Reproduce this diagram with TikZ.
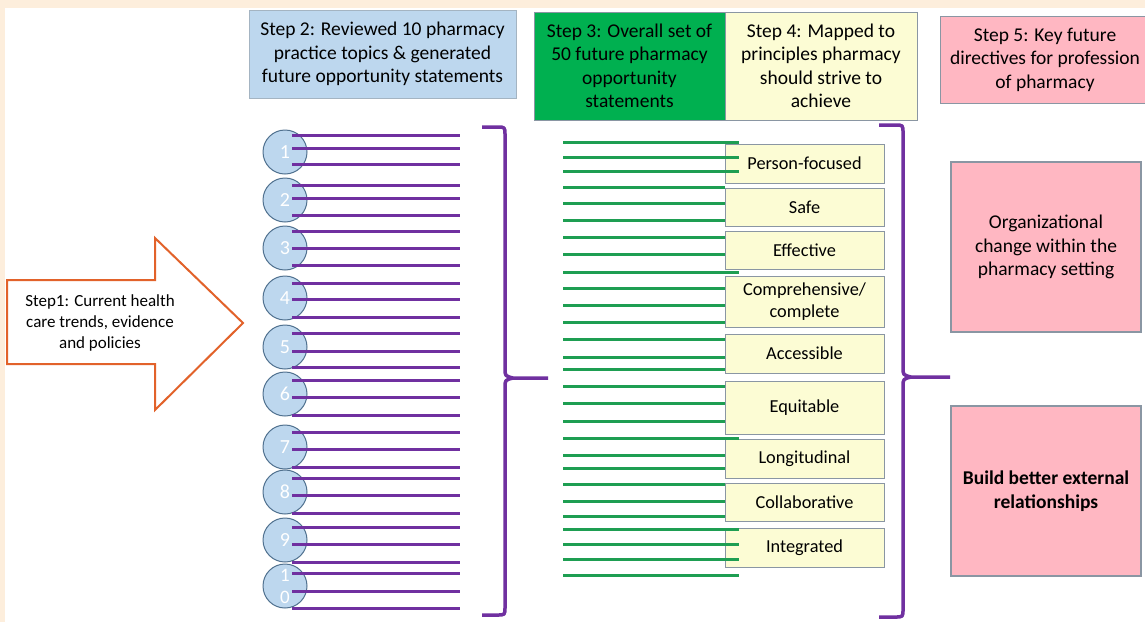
\documentclass[tikz,border=0pt]{standalone}
\usepackage{fontspec}
\setmainfont{Carlito}
\definecolor{peach}{HTML}{FDEEDC}
\definecolor{stepblue}{HTML}{BDD7EE}
\definecolor{stepgreen}{HTML}{00B050}
\definecolor{stepyellow}{HTML}{FCFCD4}
\definecolor{steppink}{HTML}{FFB7C2}
\definecolor{topicpurple}{HTML}{7030A0}
\definecolor{linegreen}{HTML}{1E9E52}
\definecolor{arroworange}{HTML}{E2622A}
\definecolor{boxgray}{HTML}{8A96A3}
\definecolor{circleedge}{HTML}{50718F}
\tikzset{
  stepbox/.style={draw=boxgray, line width=1pt, align=center, inner sep=0pt,
    font=\fontsize{19.5}{23.5}\selectfont},
  principle/.style={draw=boxgray, fill=stepyellow, line width=1pt, minimum width=159,
    align=center, inner sep=0pt, font=\fontsize{18.3}{22}\selectfont},
  topic/.style={circle, draw=circleedge, fill=stepblue, line width=1pt, minimum size=44,
    inner sep=0pt, text=white, font=\fontsize{20}{22}\selectfont},
  directive/.style={draw=boxgray, fill=steppink, line width=1.2pt, minimum width=190,
    minimum height=170, align=center, inner sep=0pt, font=\fontsize{19.5}{23.5}\selectfont},
  purpleline/.style={topicpurple, line width=3pt},
  greenline/.style={linegreen, line width=3pt},
  bracket/.style={topicpurple, line width=3.5pt, line join=round},
}
\begin{document}
\begin{tikzpicture}[x=1pt,y=-1pt]
  \useasboundingbox (0,0) rectangle (1145,622);
  \fill[peach] (0,0) rectangle (1145,622);
  \fill[white] (5,8) rectangle (1145,622);

  % step 1: arrow
  \draw[arroworange, fill=white, line width=2pt] (7,280) -- (155,280) -- (155,238) -- (243,323)
    -- (155,410) -- (155,364) -- (7,364) -- cycle;
  \node[font=\fontsize{17}{21}\selectfont, align=center] (step1) at (100,323)
    {Step1: Current health\\care trends, evidence\\and policies};

  % headers
  \node[stepbox, fill=stepblue, draw=stepblue!60!gray, minimum width=267, minimum height=88] (step2) at (382.5,54)
    {Step 2: Reviewed 10 pharmacy\\practice topics \& generated\\future opportunity statements};
  \node[stepbox, fill=stepgreen, minimum width=191, minimum height=108] (step3) at (629.5,66)
    {Step 3: Overall set of\\50 future pharmacy\\opportunity\\statements};
  \node[stepbox, fill=stepyellow, minimum width=192, minimum height=108] (step4) at (821,66)
    {Step 4: Mapped to\\principles pharmacy\\should strive to\\achieve};
  \node[stepbox, fill=steppink, minimum width=210, minimum height=87] (step5) at (1045,59.5)
    {Step 5: Key future\\directives for profession\\of pharmacy};

  % step 2: topics
  \foreach \i/\y in {1/152,2/200,3/248,4/298,5/347,6/394,7/447,8/492,9/540}
    \node[topic] (t\i) at (285,\y) {\i};
  \node[topic, align=center, font=\fontsize{19}{22}\selectfont] (t10) at (285,586) {1\\0};
  \foreach \y in {135,148,164,185,198,215,231,248,265,283,299,317,333,351,367,
                  380,397,415,432,449,467,478,495,513,527,544,562,573,591,608}
    \draw[purpleline] (292,\y) -- (460,\y);
  \draw[bracket] (482,127) -- (497,127) .. controls (505,127) .. (505,135) -- (505,368)
    .. controls (505,376) .. (513,378) -- (548,378);
  \draw[bracket] (513,378) .. controls (505,380) .. (505,388) -- (505,607)
    .. controls (505,615) .. (497,615) -- (482,615);

  % step 4: principles
  \foreach \txt/\c/\h [count=\i] in {Person-focused/163.5/39, Safe/207/38, Effective/250/38,
      Comprehensive\slash\\complete/301.5/51, Accessible/353.5/39, Equitable/407.5/53,
      Longitudinal/458.5/39, Collaborative/502/38, Integrated/547.5/39}
    \node[principle, minimum height=\h] (p\i) at (804.5,\c) {\txt};

  % step 3: statements
  \foreach \y/\e in {142/739,157/739,171/739,187/725,203/725,220/725,237/725,254/725,272/739,
      288/725,305/725,322/725,339/725,357/725,369/725,386/725,403/725,421/725,438/739,455/725,
      468/725,484/725,501/725,516/725,529/739,544/739,559/739,575/739}
    \draw[greenline] (563,\y) -- (\e,\y);
  \draw[bracket] (879,125) -- (895,125) .. controls (903,125) .. (903,133) -- (903,367)
    .. controls (903,375) .. (911,377) -- (950,377);
  \draw[bracket] (911,377) .. controls (903,379) .. (903,387) -- (903,609)
    .. controls (903,617) .. (895,617) -- (879,617);

  % step 5: directives
  \node[directive] (org) at (1046,247) {Organizational\\change within the\\pharmacy setting};
  \node[directive, font=\fontsize{19.5}{23.5}\selectfont\bfseries] (ext) at (1046,491)
    {Build better external\\relationships};
\end{tikzpicture}
\end{document}
